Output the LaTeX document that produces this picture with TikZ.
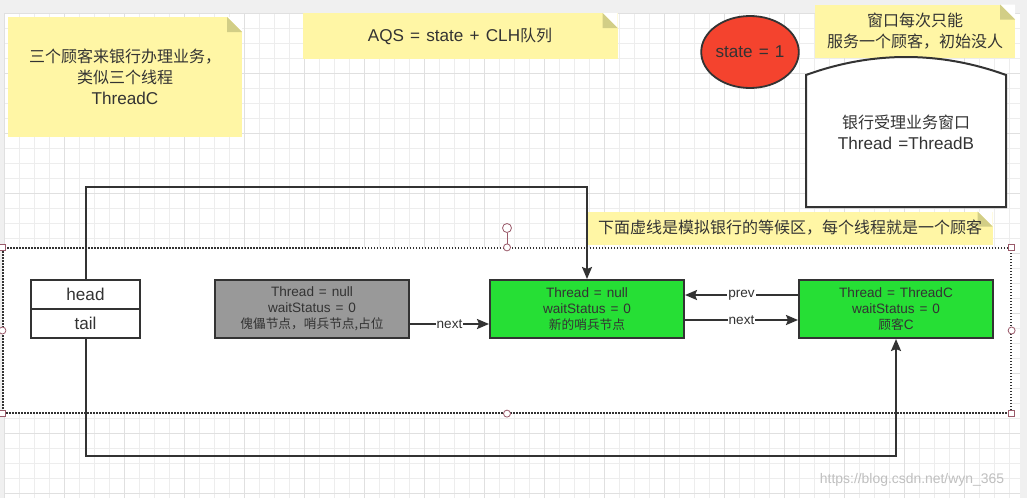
\documentclass[tikz,border=0pt]{standalone}
\usepackage{fontspec}
\setmainfont{Liberation Sans}[Scale=1.07, WordSpace=1.3]
\newfontfamily\cjk{Noto Sans CJK SC}
\usetikzlibrary{arrows.meta,shapes.geometric}

\definecolor{notey}{HTML}{FFF6A5}
\definecolor{notefold}{HTML}{D2CE86}
\definecolor{nodegreen}{HTML}{26DF35}
\definecolor{nodegray}{HTML}{999999}
\definecolor{statered}{HTML}{F4432E}
\definecolor{linedark}{HTML}{333333}
\definecolor{handlered}{HTML}{9A5A6A}
\definecolor{canvasgray}{HTML}{F0F0F0}

\newcommand\bigfont{\fontsize{16}{21}\selectfont}
\newcommand\qfont{\fontsize{12.7}{16}\selectfont}

\begin{document}
\begin{tikzpicture}[
		x=1pt, y=-1pt,
		gridminor/.style={draw=black!7, line width=0.6pt},
		gridmajor/.style={draw=black!12, line width=0.8pt},
		note/.style={fill=notey, text=linedark, align=center, inner sep=0pt, font=\bigfont,
			path picture={
				\fill[white] ([xshift=-15pt]path picture bounding box.north east) -- (path picture bounding box.north east) -- ([yshift=-15pt]path picture bounding box.north east) -- cycle;
				\fill[notefold] ([xshift=-15pt]path picture bounding box.north east) -- ([xshift=-15pt,yshift=-15pt]path picture bounding box.north east) -- ([yshift=-15pt]path picture bounding box.north east) -- cycle;
			}},
		qnode/.style={draw=linedark, line width=2pt, minimum width=194pt, minimum height=58pt, inner sep=0pt, align=center, text=linedark, font=\qfont},
		ptrbox/.style={draw=linedark, line width=2pt, fill=white, minimum width=109pt, minimum height=29pt, inner sep=0pt, text=linedark, font=\bigfont},
		link/.style={draw=linedark, line width=2pt, -{Stealth[length=12pt,width=10pt,inset=2pt]}},
		lbl/.style={fill=white, inner sep=1pt, text=linedark, font=\qfont},
		hsq/.style={rectangle, draw=handlered, fill=white, line width=0.8pt, minimum size=6pt, inner sep=0pt},
		hcirc/.style={circle, draw=handlered, fill=white, line width=0.8pt, minimum size=7pt, inner sep=0pt}
	]
		\useasboundingbox (0,0) rectangle (1027,498);
		\fill[canvasgray] (0,0) rectangle (1027,498);
		\fill[white] (4,13) rectangle (1020,498);
		% grid
		\foreach \gx in {4,19,...,1019} {
			\draw[gridminor] (\gx,13) -- (\gx,498);
		}
		\foreach \gy in {13,28,...,498} {
			\draw[gridminor] (4,\gy) -- (1020,\gy);
		}
		\foreach \gx in {4,64,...,1019} {
			\draw[gridmajor] (\gx,13) -- (\gx,498);
		}
		\foreach \gy in {13,73,...,498} {
			\draw[gridmajor] (4,\gy) -- (1020,\gy);
		}

		% notes
		\node[note, minimum width=234pt, minimum height=120pt] (customers) at (125,77) {{\cjk 三个顾客来银行办理业务，}\\{\cjk 类似三个线程}\\ThreadC};
		\node[note, minimum width=315pt, minimum height=46pt] (aqs) at (460,36) {AQS = state + CLH{\cjk 队列}};
		\node[note, minimum width=200pt, minimum height=53pt] (winnote) at (915,31) {{\cjk 窗口每次只能}\\{\cjk 服务一个顾客，初始没人}};
		\node[note, minimum width=405pt, minimum height=33pt] (waitnote) at (790,228) {{\cjk 下面虚线是模拟银行的等候区，每个线程就是一个顾客}};

		\node[ellipse, draw=linedark, line width=1.8pt, fill=statered, minimum width=95pt, minimum height=72pt, inner sep=0pt, text=linedark, font=\bigfont] (state) at (750,52) {state = 1};

		% bank window
		\draw[draw=linedark, line width=2pt, fill=white] (806,75) .. controls (872,51) and (940,51) .. (1006,75) -- (1006,207) -- (806,207) -- cycle;
		\node[align=center, text=linedark, font=\bigfont] (window) at (906,132) {{\cjk 银行受理业务窗口}\\Thread =ThreadB};

		% waiting zone
		\node[draw=linedark, line width=1.2pt, dash pattern=on 1.5pt off 1.5pt, fill=white, minimum width=1008pt, minimum height=165pt, inner sep=0pt] (zone) at (507,330.5) {};
		\node[hcirc, minimum size=9pt] (rot) at (507,228) {};
		\draw[handlered, line width=0.8pt] (rot) -- (zone.north);
		\foreach \a/\n in {north west/nw, north east/ne, south west/sw, south east/se} {
			\node[hsq] (h\n) at (zone.\a) {};
		}
		\foreach \a/\n in {north/n, south/s, west/w, east/e} {
			\node[hcirc] (c\n) at (zone.\a) {};
		}

		\node[ptrbox] (head) at (85.5,294.5) {head};
		\node[ptrbox] (tail) at (85.5,323.5) {tail};

		\node[qnode, fill=nodegray] (dummy) at (312,309) {Thread = null\\waitStatus = 0\\{\cjk 傀儡节点，哨兵节点,占位}};
		\node[qnode, fill=nodegreen] (sentinel) at (587,309) {Thread = null\\waitStatus = 0\\{\cjk 新的哨兵节点}};
		\node[qnode, fill=nodegreen] (custC) at (896,309) {Thread = ThreadC\\waitStatus = 0\\{\cjk 顾客}C};

		% pointers
		\draw[link] (head.north) -- ++(0,-92) -| (sentinel.north);
		\draw[link] (tail.south) -- ++(0,117) -| (custC.south);
		\draw[link] ([yshift=-15pt]dummy.east) -- node[lbl] {next} ([yshift=-15pt]sentinel.west);
		\draw[link] ([yshift=14pt]custC.west) -- node[lbl] {prev} ([yshift=14pt]sentinel.east);
		\draw[link] ([yshift=-11pt]sentinel.east) -- node[lbl] {next} ([yshift=-11pt]custC.west);

		\node[text=black!25, font=\fontsize{13}{15}\selectfont] (mark) at (912,480) {https://blog.csdn.net/wyn\_365};
	\end{tikzpicture}
\end{document}
